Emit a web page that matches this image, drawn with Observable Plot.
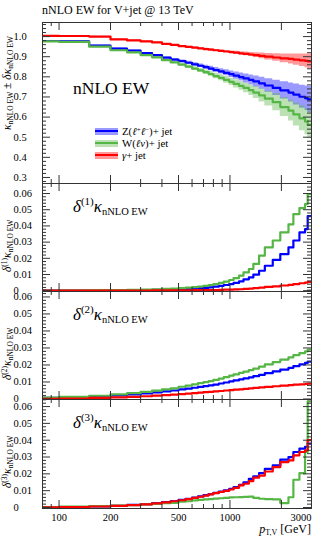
<!DOCTYPE html>
<html><head><meta charset="utf-8">
<script src="https://cdn.jsdelivr.net/npm/d3@7"></script>
<script src="https://cdn.jsdelivr.net/npm/@observablehq/plot@0.6"></script>
<style>
body{margin:0;background:#fff;}
#chart{position:relative;width:324px;height:540px;font-family:"Liberation Serif",serif;color:#000;overflow:hidden;}
#chart svg{display:block;overflow:visible;}
.lbl{position:absolute;white-space:nowrap;line-height:1;}
.rot{transform-origin:0 0;transform:rotate(-90deg);}
.sup{position:relative;}
.sub{position:relative;}
</style></head><body><div id="chart"></div>
<script>
// ---- data ----
const edges = [80,100,150,200,250,300,350,400,450,500,550,600,650,700,750,800,860,920,990,1050,1130,1200,1290,1370,1480,1600,1780,1970,2200,2350,2550,2750,2850,3000];

const kappaZ = [0.978,0.976,0.955,0.940,0.930,0.918,0.908,0.895,0.886,0.878,0.870,0.862,0.855,0.848,0.841,0.834,0.827,0.820,0.813,0.806,0.799,0.792,0.785,0.777,0.768,0.757,0.745,0.733,0.722,0.712,0.701,0.694,0.688];
const kappaW = [0.976,0.974,0.950,0.932,0.922,0.908,0.897,0.883,0.872,0.861,0.851,0.841,0.832,0.823,0.814,0.804,0.795,0.785,0.775,0.765,0.755,0.745,0.734,0.722,0.708,0.692,0.674,0.650,0.632,0.613,0.594,0.578,0.562];
const kappaA = [1.004,1.003,1.000,0.986,0.981,0.976,0.971,0.964,0.959,0.953,0.949,0.945,0.941,0.938,0.935,0.932,0.929,0.926,0.923,0.920,0.917,0.914,0.911,0.908,0.904,0.900,0.896,0.892,0.889,0.886,0.882,0.879,0.877];

const bandZ = [0.003,0.003,0.003,0.003,0.003,0.003,0.003,0.004,0.005,0.006,0.007,0.008,0.009,0.010,0.011,0.012,0.013,0.015,0.016,0.018,0.020,0.022,0.024,0.027,0.030,0.034,0.038,0.043,0.047,0.052,0.057,0.061,0.065];
const bandW = [0.003,0.003,0.003,0.003,0.003,0.003,0.003,0.005,0.006,0.007,0.008,0.009,0.010,0.011,0.012,0.014,0.015,0.017,0.018,0.020,0.022,0.024,0.027,0.030,0.033,0.037,0.042,0.047,0.052,0.057,0.062,0.066,0.070];
const bandA = [0.002,0.002,0.002,0.002,0.002,0.002,0.002,0.002,0.002,0.003,0.003,0.003,0.003,0.004,0.004,0.004,0.004,0.005,0.006,0.007,0.008,0.009,0.010,0.012,0.014,0.016,0.019,0.022,0.025,0.028,0.031,0.034,0.037];

const delta1Z = [0.0001,0.0001,0.0002,0.0002,0.0003,0.0004,0.0005,0.0006,0.0008,0.0009,0.0011,0.0013,0.0015,0.0018,0.0021,0.0025,0.0030,0.0035,0.0041,0.0048,0.0057,0.0070,0.0082,0.0099,0.0123,0.0154,0.0190,0.0226,0.0267,0.0310,0.0360,0.0380,0.0460];
const delta1W = [0.0001,0.0002,0.0003,0.0004,0.0005,0.0007,0.0009,0.0011,0.0013,0.0016,0.0019,0.0022,0.0026,0.0030,0.0035,0.0041,0.0048,0.0056,0.0066,0.0078,0.0093,0.0113,0.0134,0.0165,0.0216,0.0267,0.0310,0.0360,0.0410,0.0473,0.0510,0.0535,0.0597];
const delta1A = [0.0001,0.0001,0.0001,0.0001,0.0001,0.0001,0.0002,0.0002,0.0002,0.0002,0.0002,0.0003,0.0003,0.0003,0.0003,0.0004,0.0005,0.0006,0.0007,0.0008,0.0009,0.0011,0.0013,0.0016,0.0019,0.0023,0.0027,0.0032,0.0036,0.0041,0.0046,0.0050,0.0055];

const delta2Z = [0.0006,0.0009,0.0015,0.0021,0.0027,0.0033,0.0039,0.0045,0.0050,0.0056,0.0061,0.0066,0.0071,0.0076,0.0080,0.0085,0.0091,0.0097,0.0103,0.0109,0.0115,0.0121,0.0127,0.0134,0.0142,0.0152,0.0162,0.0173,0.0183,0.0193,0.0203,0.0212,0.0220];
const delta2W = [0.0008,0.0012,0.0019,0.0027,0.0034,0.0042,0.0049,0.0056,0.0063,0.0072,0.0079,0.0086,0.0093,0.0099,0.0105,0.0112,0.0120,0.0128,0.0137,0.0145,0.0153,0.0161,0.0170,0.0179,0.0190,0.0203,0.0217,0.0232,0.0245,0.0258,0.0270,0.0280,0.0290];
const delta2A = [0.0001,0.0003,0.0006,0.0009,0.0013,0.0016,0.0020,0.0023,0.0026,0.0029,0.0032,0.0035,0.0037,0.0040,0.0042,0.0045,0.0047,0.0050,0.0052,0.0055,0.0057,0.0060,0.0062,0.0065,0.0068,0.0071,0.0075,0.0078,0.0081,0.0084,0.0086,0.0088,0.0090];

const delta3Z = [0.0001,0.0003,0.0006,0.0010,0.0015,0.0020,0.0026,0.0032,0.0038,0.0045,0.0052,0.0059,0.0066,0.0073,0.0080,0.0087,0.0095,0.0102,0.0111,0.0121,0.0135,0.0150,0.0170,0.0185,0.0204,0.0230,0.0250,0.0284,0.0300,0.0330,0.0350,0.0360,0.0380];
const delta3W = [0.0002,0.0005,0.0008,0.0011,0.0014,0.0018,0.0022,0.0026,0.0028,0.0034,0.0037,0.0042,0.0045,0.0048,0.0050,0.0053,0.0055,0.0057,0.0060,0.0061,0.0062,0.0063,0.0065,0.0057,0.0052,0.0050,0.0048,0.0026,0.0061,0.0165,0.0204,0.0330,0.0630];
const delta3A = [0.0001,0.0003,0.0006,0.0010,0.0014,0.0019,0.0025,0.0031,0.0037,0.0043,0.0050,0.0057,0.0064,0.0071,0.0078,0.0085,0.0092,0.0099,0.0107,0.0117,0.0131,0.0141,0.0157,0.0177,0.0190,0.0214,0.0240,0.0270,0.0280,0.0310,0.0330,0.0340,0.0400];

const xMajorTicks = [100,200,500,1000,2000];
const xMinorTicks = [90,300,400,600,700,800,900];
const xTickLabels = [100,200,500,1000];
const xEndLabel = [3000];
const kappaTickLabels = [0.3,0.4,0.5,0.6,0.7,0.8,0.9,1.0];
const deltaTickLabels = [0,0.01,0.02,0.03,0.04,0.05,0.06];

const colZ = "#0000ff", colW = "#55b545", colA = "#ff0000";

// ---- helpers ----
const W = 324, ML = 42, MR = 13;
const AX = "#333";
function steps(vals) {
  const out = [];
  vals.forEach((v, i) => { out.push({x: edges[i], y: v}); out.push({x: edges[i + 1], y: v}); });
  return out;
}
function bandSteps(vals, hw) {
  const out = [];
  vals.forEach((v, i) => {
    out.push({x: edges[i], y1: v - hw[i], y2: v + hw[i]});
    out.push({x: edges[i + 1], y1: v - hw[i], y2: v + hw[i]});
  });
  return out;
}

function panel({height, mt = 0, mb = 0, yDomain, lines, bands = [], yMajor, yMinor, yFmt, xLabels = false}) {
  const iw = W - ML - MR, ih = height - mt - mb;
  const marks = [];
  bands.forEach(b => marks.push(Plot.areaY(bandSteps(b.v, b.hw), {x: "x", y1: "y1", y2: "y2", fill: b.color, fillOpacity: 0.4, clip: true})));
  lines.forEach(l => marks.push(Plot.line(steps(l.v), {x: "x", y: "y", stroke: l.color, strokeWidth: 2.2, clip: true})));
  marks.push(Plot.tickY(yMajor, {y: d => d, stroke: AX, insetRight: iw - 8}));
  marks.push(Plot.tickY(yMajor, {y: d => d, stroke: AX, insetLeft: iw - 8}));
  marks.push(Plot.tickY(yMinor, {y: d => d, stroke: AX, insetRight: iw - 4}));
  marks.push(Plot.tickY(yMinor, {y: d => d, stroke: AX, insetLeft: iw - 4}));
  marks.push(Plot.tickX(xMajorTicks, {x: d => d, stroke: AX, insetBottom: ih - 8}));
  marks.push(Plot.tickX(xMajorTicks, {x: d => d, stroke: AX, insetTop: ih - 8}));
  marks.push(Plot.tickX(xMinorTicks, {x: d => d, stroke: AX, insetBottom: ih - 4}));
  marks.push(Plot.tickX(xMinorTicks, {x: d => d, stroke: AX, insetTop: ih - 4}));
  marks.push(Plot.frame({stroke: AX}));
  marks.push(Plot.text(yMajor, {y: d => d, text: yFmt, frameAnchor: "left", dx: -29, textAnchor: "start", fontSize: 10.5, fill: "#000"}));
  if (xLabels) {
    marks.push(Plot.text(xTickLabels, {x: d => d, text: d => String(d), frameAnchor: "bottom", dy: 12, lineAnchor: "bottom", fontSize: 10.5, fill: "#000"}));
    marks.push(Plot.text(xEndLabel, {x: d => d, text: d => String(d), frameAnchor: "bottom", dy: 12, lineAnchor: "bottom", textAnchor: "end", fontSize: 10.5, fill: "#000"}));
  }
  return Plot.plot({
    width: W, height, marginTop: mt, marginBottom: mb, marginLeft: ML, marginRight: MR,
    x: {type: "log", domain: [80, 3000], axis: null},
    y: {domain: yDomain, axis: null},
    style: {fontFamily: "Liberation Serif, serif", fontSize: "10.5px", background: "transparent", overflow: "visible"},
    marks
  });
}

const kMinor = d3.range(0.28, 1.07, 0.02).filter(v => Math.abs(Math.round(v * 10) - v * 10) > 0.01);
const dMinor = d3.range(0.002, 0.066, 0.002).filter(v => Math.abs(Math.round(v * 100) - v * 100) > 0.01);
const fmt1 = d => d.toFixed(1);
const fmt2 = d => d === 0 ? "0" : d.toFixed(2);

const chart = document.getElementById("chart");
chart.appendChild(panel({
  height: 183, mt: 22, yDomain: [0.27, 1.07],
  bands: [{v: kappaZ, hw: bandZ, color: colZ}, {v: kappaW, hw: bandW, color: colW}, {v: kappaA, hw: bandA, color: colA}],
  lines: [{v: kappaZ, color: colZ}, {v: kappaW, color: colW}, {v: kappaA, color: colA}],
  yMajor: kappaTickLabels, yMinor: kMinor, yFmt: fmt1
}));
chart.appendChild(panel({
  height: 108, yDomain: [-0.0005, 0.0662],
  lines: [{v: delta1Z, color: colZ}, {v: delta1W, color: colW}, {v: delta1A, color: colA}],
  yMajor: deltaTickLabels, yMinor: dMinor, yFmt: fmt2
}));
chart.appendChild(panel({
  height: 108, yDomain: [-0.0003, 0.0632],
  lines: [{v: delta2Z, color: colZ}, {v: delta2W, color: colW}, {v: delta2A, color: colA}],
  yMajor: deltaTickLabels, yMinor: dMinor, yFmt: fmt2
}));
chart.appendChild(panel({
  height: 141, mb: 32, yDomain: [-0.0006, 0.0642],
  lines: [{v: delta3Z, color: colZ}, {v: delta3W, color: colW}, {v: delta3A, color: colA}],
  yMajor: deltaTickLabels, yMinor: dMinor, yFmt: fmt2, xLabels: true
}));

// ---- text overlays ----
function add(html, style, cls = "lbl") {
  const d = document.createElement("div");
  d.className = cls;
  d.innerHTML = html;
  Object.assign(d.style, style);
  chart.appendChild(d);
  return d;
}
const SUBK = '<span class="sub" style="font-size:7.5px;top:2px">nNLO EW</span>';
add("nNLO EW for V+jet @ 13 TeV", {left: "42px", top: "4px", fontSize: "12px"});
add("nNLO EW", {left: "73px", top: "80px", fontSize: "17.5px"});

const panelTops = [183, 291, 399];
panelTops.forEach((t, i) => {
  add(`<i>δ</i><span class="sup" style="font-size:11px;top:-7px">(${i + 1})</span><i>κ</i><span class="sub" style="font-size:10.5px;top:3px">nNLO EW</span>`,
    {left: "73px", top: (t + 15) + "px", fontSize: "17px"});
  add(`<i>δ</i><span class="sup" style="font-size:7.5px;top:-4px">(${i + 1})</span><i>κ</i>${SUBK}`,
    {left: "2px", top: (t + 89) + "px", fontSize: "11.5px"}, "lbl rot");
});
add(`<i>κ</i>${SUBK} ± <i>δκ</i>${SUBK}`, {left: "2px", top: "130px", fontSize: "11.5px"}, "lbl rot");
add(`<i>p</i><span class="sub" style="font-size:8px;top:2px">T,V</span> [GeV]`, {right: "13px", top: "523px", fontSize: "12px"});

// legend
const legendRows = [
  {label: "Z(<i>ℓ</i><span class='sup' style='font-size:7px;top:-3px'>+</span><i>ℓ</i><span class='sup' style='font-size:7px;top:-3px'>−</span>)+ jet", color: colZ, y: 131},
  {label: "W(<i>ℓν</i>)+ jet", color: colW, y: 143},
  {label: "<i>γ</i>+ jet", color: colA, y: 155}
];
legendRows.forEach(r => {
  add("", {left: "95px", top: (r.y - 3.5) + "px", width: "23px", height: "7px", background: r.color, opacity: 0.4});
  add("", {left: "95px", top: (r.y - 1.25) + "px", width: "23px", height: "2.5px", background: r.color});
  add(r.label, {left: "122px", top: (r.y - 5.2) + "px", fontSize: "10.8px", lineHeight: "10px"});
});
</script></body></html>
